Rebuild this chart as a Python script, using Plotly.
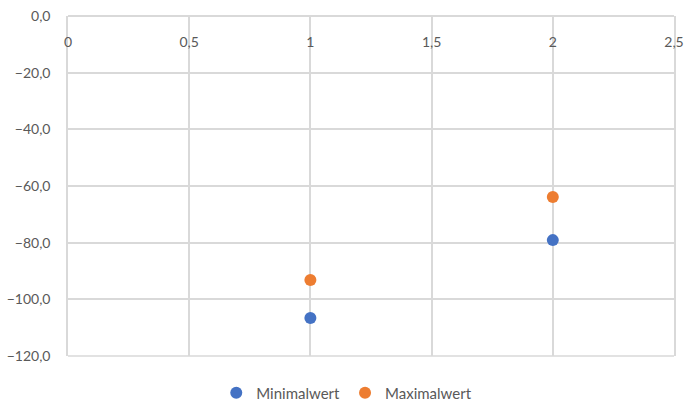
import plotly.graph_objects as go

# Measured points per run
x_vals = [1, 2]
minimalwert = [-106.6, -79.1]
maximalwert = [-93.2, -63.9]

x_ticks = [0, 0.5, 1, 1.5, 2, 2.5]
y_ticks = [0, -20, -40, -60, -80, -100, -120]

grid_color = "#d9d9d9"
text_color = "#595959"
font_family = "Lato, Open Sans, sans-serif"

fig = go.Figure()
fig.add_trace(go.Scatter(
    x=x_vals, y=minimalwert, mode="markers", name="Minimalwert",
    marker=dict(color="#4472C4", size=12),
))
fig.add_trace(go.Scatter(
    x=x_vals, y=maximalwert, mode="markers", name="Maximalwert",
    marker=dict(color="#ED7D31", size=12),
))

fig.update_layout(
    width=686, height=403,
    margin=dict(l=68, r=12, t=16, b=47, autoexpand=False),
    paper_bgcolor="white", plot_bgcolor="white",
    separators=",.",
    font=dict(family=font_family, size=13, color=text_color),
    showlegend=True,
    legend=dict(orientation="h", x=0.46, xanchor="center",
                yref="container", y=0.025, yanchor="middle",
                font=dict(size=15, color=text_color), itemwidth=30),
    # x axis sits on the y=0 line at the top, labels hanging below it
    xaxis=dict(
        range=[0, 2.5], tickvals=x_ticks, side="bottom",
        anchor="free", position=1,
        tickfont=dict(size=14, color=text_color),
        ticklabelstandoff=13,
        showgrid=True, gridcolor=grid_color, gridwidth=1.5,
        showline=True, linecolor=grid_color, linewidth=1.5,
        zeroline=False, ticks="",
    ),
    yaxis=dict(
        range=[-120, 0], tickvals=y_ticks, tickformat=".1f",
        tickfont=dict(size=14, color=text_color),
        ticklabelstandoff=13,
        showgrid=True, gridcolor=grid_color, gridwidth=1.5,
        showline=True, linecolor=grid_color, linewidth=1.5, mirror=True,
        zeroline=False, ticks="",
    ),
    # frame line along the bottom of the plotting area
    shapes=[dict(type="line", xref="paper", yref="paper", x0=0, x1=1, y0=0, y1=0,
                 line=dict(color=grid_color, width=1.5), layer="below")],
)

fig.write_html("out.html")
